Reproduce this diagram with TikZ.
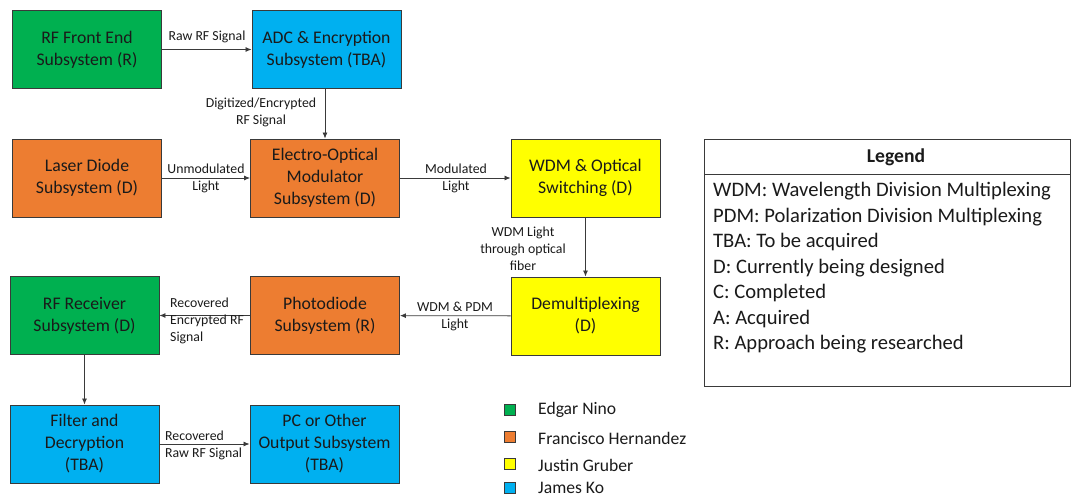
\documentclass[tikz,border=0pt]{standalone}
\usepackage{fontspec}
\setmainfont{Carlito}
\usetikzlibrary{arrows.meta}
\definecolor{cgreen}{HTML}{00B050}
\definecolor{corange}{HTML}{ED7D31}
\definecolor{cyellow}{HTML}{FFFF00}
\definecolor{cblue}{HTML}{00B0F0}
\definecolor{cborder}{HTML}{3A3A3A}
\definecolor{ctext}{HTML}{1A1A1A}
\tikzset{
  blk/.style={draw=cborder, line width=0.9pt, minimum width=149pt, minimum height=78pt, inner sep=0pt, align=center, font=\fontsize{17.7}{22}\selectfont, text=ctext},
  conn/.style={draw=cborder, line width=0.8pt, -{Latex[length=6pt,width=5pt]}},
  lbl/.style={font=\fontsize{13.8}{17}\selectfont, text=ctext, align=center, inner sep=0pt},
  leg/.style={font=\fontsize{20.6}{25.7}\selectfont, text=ctext, anchor=west, inner sep=0pt},
  sq/.style={draw=cborder, line width=0.6pt, minimum size=11pt, inner sep=0pt},
  sqlbl/.style={font=\fontsize{17.6}{20}\selectfont, text=ctext, anchor=west, inner sep=0pt}
}
\begin{document}
\begin{tikzpicture}[x=1pt,y=-1pt]
\useasboundingbox (0,0) rectangle (1074,497);
% blocks
\node[blk, fill=cgreen] (rffe) at (87,49.5) {RF Front End\\Subsystem (R)};
\node[blk, fill=cblue] (adc) at (326.5,49.5) {ADC \& Encryption\\Subsystem (TBA)};
\node[blk, fill=corange] (laser) at (87,178) {Laser Diode\\Subsystem (D)};
\node[blk, fill=corange] (eom) at (325,178) {Electro-Optical\\Modulator\\Subsystem (D)};
\node[blk, fill=cyellow] (wdm) at (585.5,178) {WDM \& Optical\\Switching (D)};
\node[blk, fill=cyellow] (demux) at (585.5,316) {Demultiplexing\\(D)};
\node[blk, fill=corange] (photo) at (325,315.5) {Photodiode\\Subsystem (R)};
\node[blk, fill=cgreen] (rfrx) at (84.5,315.5) {RF Receiver\\Subsystem (D)};
\node[blk, fill=cblue] (filt) at (84.5,444) {Filter and\\Decryption\\(TBA)};
\node[blk, fill=cblue] (pc) at (324.5,444) {PC or Other\\Output Subsystem\\(TBA)};
% connectors
\draw[conn] (rffe) -- (adc);
\draw[conn] (adc.south -| eom.north) -- (eom.north);
\draw[conn] (laser) -- (eom);
\draw[conn] (eom) -- (wdm);
\draw[conn] (wdm) -- (demux);
\draw[conn] (demux) -- (photo);
\draw[conn] (photo) -- (rfrx);
\draw[conn] (rfrx) -- (filt);
\draw[conn] (filt) -- (pc);
% connector labels
\node[lbl] (l1) at (207,37) {Raw RF Signal};
\node[lbl] (l2) at (261,112.5) {Digitized/Encrypted\\RF Signal};
\node[lbl] (l3) at (206,178) {Unmodulated\\Light};
\node[lbl] (l4) at (456,178) {Modulated\\Light};
\node[lbl] (l5) at (523,249) {WDM Light\\through optical\\fiber};
\node[lbl] (l6) at (455,316.5) {WDM \& PDM\\Light};
\node[lbl, align=left, anchor=west] (l7) at (170,321) {Recovered\\Encrypted RF\\Signal};
\node[lbl, align=left, anchor=west] (l8) at (165,445.5) {Recovered\\Raw RF Signal};
% legend box
\node[draw=cborder, line width=0.9pt, minimum width=366pt, minimum height=247pt, inner sep=0pt, anchor=north west] (legbox) at (704,139) {};
\coordinate (hl) at (704,174);
\coordinate (hr) at (1070,174);
\draw[cborder, line width=0.9pt] (hl) -- (hr);
\node[font=\fontsize{19.6}{22}\bfseries\selectfont, text=ctext, inner sep=0pt] (legt) at (896,157) {Legend};
\node[leg] (e1) at (713,191.5) {WDM: Wavelength Division Multiplexing};
\node[leg] (e2) at (713,217) {PDM: Polarization Division Multiplexing};
\node[leg] (e3) at (713,242.5) {TBA: To be acquired};
\node[leg] (e4) at (713,268) {D: Currently being designed};
\node[leg] (e5) at (713,293.5) {C: Completed};
\node[leg] (e6) at (713,319) {A: Acquired};
\node[leg] (e7) at (713,344.5) {R: Approach being researched};
% colour key
\node[sq, fill=cgreen] (s1) at (510,409.5) {};
\node[sq, fill=corange] (s2) at (510,437) {};
\node[sq, fill=cyellow] (s3) at (510,464) {};
\node[sq, fill=cblue] (s4) at (510,488) {};
\node[sqlbl] (n1) at (538,410) {Edgar Nino};
\node[sqlbl] (n2) at (538,438) {Francisco Hernandez};
\node[sqlbl] (n3) at (538,465) {Justin Gruber};
\node[sqlbl] (n4) at (538,488) {James Ko};
\end{tikzpicture}
\end{document}
